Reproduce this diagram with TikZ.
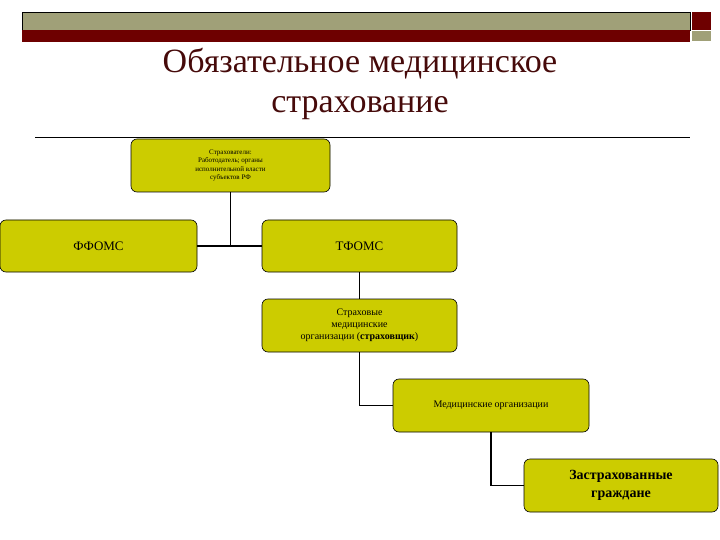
\documentclass[tikz,border=0pt]{standalone}
\usepackage{fontspec}
\setmainfont{Liberation Serif}
\begin{document}
\begin{tikzpicture}[x=1pt,y=-1pt,
  box/.style={draw=black,fill=boxfill,rounded corners=6pt,align=center,inner sep=0pt,line width=0.6pt},
  conn/.style={line width=1.6pt,draw=black}]
\definecolor{boxfill}{RGB}{204,204,0}
\definecolor{khaki}{RGB}{160,160,120}
\definecolor{dred}{RGB}{110,0,0}
\definecolor{titlec}{RGB}{70,10,10}
\useasboundingbox (0,0) rectangle (720,540);
\fill[khaki,draw=black,line width=0.4pt] (22,12) rectangle (690,30);
\fill[dred] (22,30) rectangle (690,42);
\fill[dred] (692,12) rectangle (711,30);
\fill[khaki] (692,31) rectangle (711,41);
\node[text=titlec,font=\fontsize{34}{40}\selectfont,align=center] (title) at (360,84) {Обязательное медицинское\\страхование};
\draw[line width=0.6pt] (35,137) -- (690,137);
\node[box,minimum width=199pt,minimum height=53pt,font=\fontsize{7}{8.5}\selectfont] (ins) at (230.5,165.5) {Страхователи:\\Работодатель; органы\\исполнительной власти\\субъектов РФ};
\node[box,minimum width=197pt,minimum height=52pt,font=\fontsize{13}{15}\selectfont] (ff) at (98.5,246) {ФФОМС};
\node[box,minimum width=195pt,minimum height=52pt,font=\fontsize{13}{15}\selectfont] (tf) at (359.5,246) {ТФОМС};
\node[box,minimum width=195pt,minimum height=53pt,font=\fontsize{10}{12}\selectfont] (smo) at (359.5,325.5) {Страховые\\медицинские\\организации (\textbf{страховщик})};
\node[box,minimum width=196pt,minimum height=53pt,font=\fontsize{10}{12}\selectfont] (mo) at (491,405.5) {Медицинские организации};
\node[box,minimum width=194pt,minimum height=53pt,font=\bfseries\fontsize{14}{18}\selectfont] (zg) at (621,485.5) {Застрахованные\\граждане};
\coordinate (j1) at (ins.south |- ff.east);
\draw[conn] (ins.south) -- (j1);
\draw[conn] (ff.east) -- (tf.west);
\draw[conn] (tf.south) -- (smo.north);
\draw[conn] (smo.south) |- (mo.west);
\draw[conn] (mo.south) |- (zg.west);
\end{tikzpicture}
\end{document}
